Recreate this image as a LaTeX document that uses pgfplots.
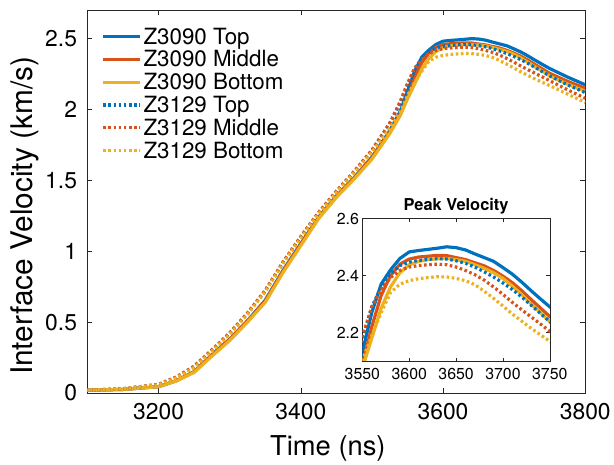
\documentclass[border=0pt]{standalone}
\usepackage{pgfplots}
\pgfplotsset{compat=1.18}
\usepackage{pgfplotstable}
\usepackage{fontspec}
\setmainfont{TeX Gyre Heros}
\definecolor{mblue}{rgb}{0,0.447,0.741}
\definecolor{morange}{rgb}{0.85,0.325,0.098}
\definecolor{myellow}{rgb}{0.929,0.694,0.125}
\definecolor{axgray}{rgb}{0.15,0.15,0.15}

% t, Z3090 Top, Z3090 Middle, Z3090 Bottom, Z3129 Top, Z3129 Middle, Z3129 Bottom
\pgfplotstableread{
t    a      b      c      d      e      f
3100 0.020  0.020  0.020  0.020  0.020  0.020
3150 0.025  0.025  0.025  0.030  0.030  0.030
3200 0.045  0.045  0.045  0.060  0.062  0.058
3225 0.087  0.086  0.085  0.110  0.113  0.107
3250 0.150  0.150  0.145  0.185  0.190  0.180
3275 0.270  0.268  0.260  0.300  0.305  0.295
3300 0.380  0.378  0.370  0.420  0.425  0.415
3325 0.510  0.508  0.500  0.560  0.565  0.555
3350 0.655  0.650  0.640  0.720  0.725  0.715
3375 0.865  0.860  0.850  0.920  0.925  0.915
3400 1.055  1.050  1.040  1.100  1.105  1.095
3425 1.240  1.238  1.230  1.270  1.275  1.265
3450 1.390  1.388  1.380  1.420  1.425  1.415
3475 1.520  1.518  1.510  1.560  1.565  1.555
3500 1.665  1.660  1.650  1.710  1.715  1.700
3525 1.850  1.840  1.830  1.900  1.905  1.870
3540 1.990  1.970  1.960  2.050  2.060  1.980
3550 2.130  2.085  2.075  2.174  2.186  2.100
3560 2.270  2.220  2.180  2.290  2.290  2.190
3570 2.370  2.330  2.285  2.360  2.350  2.270
3580 2.420  2.400  2.360  2.405  2.393  2.340
3590 2.460  2.440  2.410  2.435  2.418  2.370
3600 2.483  2.458  2.438  2.447  2.430  2.382
3610 2.488  2.465  2.450  2.453  2.435  2.389
3620 2.492  2.468  2.456  2.457  2.438  2.393
3630 2.496  2.471  2.459  2.459  2.440  2.396
3640 2.501  2.470  2.460  2.458  2.438  2.395
3650 2.498  2.463  2.456  2.452  2.430  2.390
3660 2.490  2.456  2.450  2.443  2.418  2.382
3670 2.476  2.445  2.438  2.430  2.403  2.368
3680 2.463  2.434  2.425  2.413  2.384  2.345
3690 2.450  2.418  2.410  2.395  2.360  2.320
3700 2.428  2.398  2.390  2.374  2.334  2.293
3710 2.405  2.375  2.363  2.351  2.306  2.265
3720 2.377  2.347  2.333  2.325  2.280  2.240
3730 2.347  2.316  2.300  2.296  2.255  2.215
3740 2.318  2.286  2.270  2.267  2.230  2.192
3750 2.290  2.256  2.238  2.238  2.204  2.169
3775 2.230  2.200  2.180  2.175  2.140  2.110
3800 2.175  2.150  2.130  2.120  2.080  2.050
}\vel

\pgfplotsset{
  mstyle/.style={
    axis line style={axgray, line width=0.6pt},
    tick style={axgray, line width=0.6pt},
    tick align=inside,
    /pgf/number format/assume math mode=true,
    /pgf/number format/1000 sep={},
    clip=true,
  },
  solidl/.style={line width=3.2pt},
  dotl/.style={line width=3.2pt, line cap=butt, dash pattern=on 2.6pt off 2.6pt},
}

\begin{document}
\begin{tikzpicture}
\begin{axis}[mstyle,
  scale only axis, width=501pt, height=385pt,
  xmin=3100, xmax=3800, ymin=0, ymax=2.7,
  xtick={3200,3400,3600,3800},
  ytick={0,0.5,1,1.5,2,2.5},
  major tick length=5pt,
  tick label style={font=\fontsize{23}{27}\selectfont, text=black},
  xticklabel style={yshift=-6.5pt},
  yticklabel style={xshift=-7pt},
  xlabel={Time (ns)},
  ylabel={Interface Velocity (km/s)},
  label style={font=\fontsize{27.5}{32}\selectfont, text=black},
  xlabel style={at={(axis description cs:0.483,0)}, anchor=base, yshift=-62.5pt},
  ylabel style={at={(axis description cs:-0.126,0.463)}, anchor=center, font=\fontsize{30}{34}\selectfont},
  legend style={draw=none, fill=none, at={(0.028,0.96)}, anchor=north west,
    font=\fontsize{22.5}{26}\selectfont, row sep=1pt, inner sep=0pt,
    /tikz/every even column/.append style={column sep=2pt}},
  legend cell align=left,
  legend image code/.code={\draw[#1] (0pt,0pt) -- (37pt,0pt);},
]
\addplot[mblue, solidl] table[x=t, y=a] {\vel};
\addlegendentry{Z3090 Top}
\addplot[morange, solidl] table[x=t, y=b] {\vel};
\addlegendentry{Z3090 Middle}
\addplot[myellow, solidl] table[x=t, y=c] {\vel};
\addlegendentry{Z3090 Bottom}
\addplot[mblue, dotl] table[x=t, y=d] {\vel};
\addlegendentry{Z3129 Top}
\addplot[morange, dotl] table[x=t, y=e] {\vel};
\addlegendentry{Z3129 Middle}
\addplot[myellow, dotl] table[x=t, y=f] {\vel};
\addlegendentry{Z3129 Bottom}
\end{axis}

\begin{axis}[mstyle,
  at={(276.7pt,32.2pt)}, anchor=south west,
  scale only axis, width=188.6pt, height=143.3pt,
  axis background/.style={fill=white},
  xmin=3550, xmax=3750, ymin=2.1, ymax=2.6,
  xtick={3550,3600,3650,3700,3750},
  ytick={2.2,2.4,2.6},
  yticklabel style={/pgf/number format/fixed, /pgf/number format/precision=1, /pgf/number format/fixed zerofill},
  major tick length=3.5pt,
  tick label style={font=\fontsize{16}{19}\selectfont, text=black},
  xticklabel style={yshift=-4pt},
  title={\textbf{Peak Velocity}},
  title style={at={(axis description cs:0.5,1)}, anchor=base, yshift=2pt, font=\fontsize{16.5}{19}\selectfont},
]
\addplot[mblue, solidl] table[x=t, y=a] {\vel};
\addplot[morange, solidl] table[x=t, y=b] {\vel};
\addplot[myellow, solidl] table[x=t, y=c] {\vel};
\addplot[mblue, dotl] table[x=t, y=d] {\vel};
\addplot[morange, dotl] table[x=t, y=e] {\vel};
\addplot[myellow, dotl] table[x=t, y=f] {\vel};
\end{axis}
\path (-88pt,-69.5pt) rectangle (526pt,395.5pt);
\end{tikzpicture}
\end{document}
